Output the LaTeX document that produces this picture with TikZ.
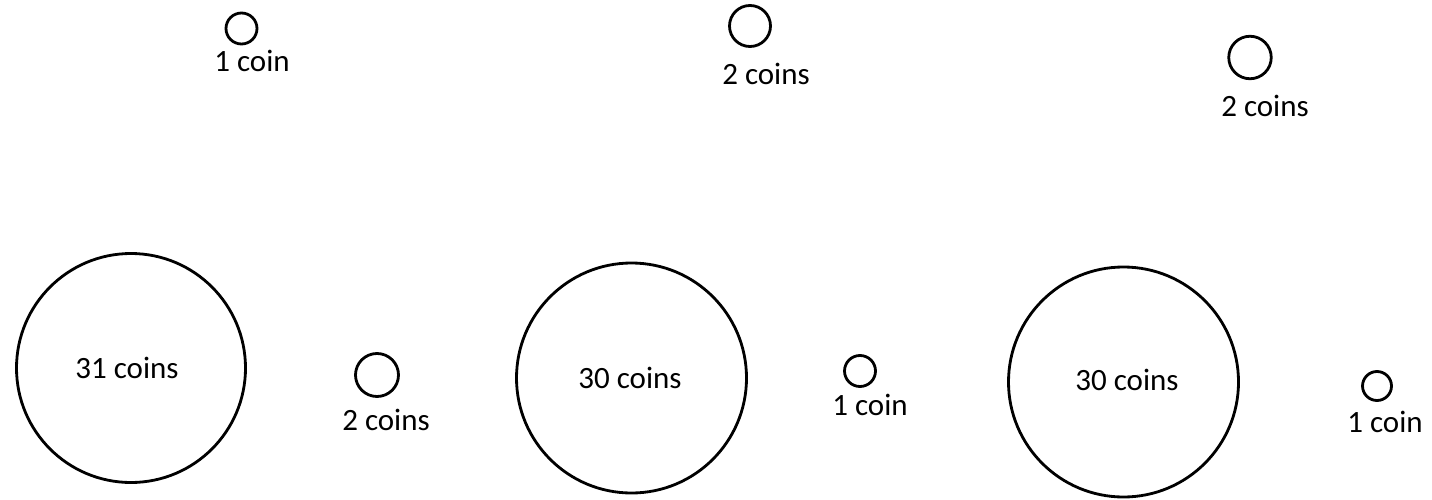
\documentclass[tikz,border=0pt]{standalone}
\usepackage{fontspec}
\setmainfont{Carlito}
\tikzset{
  coin/.style={draw=black,circle,line width=2.8pt,inner sep=0pt},
  lbl/.style={anchor=base,inner sep=0pt,font=\fontsize{31}{36}\selectfont},
}

\begin{document}
\begin{tikzpicture}[x=1pt,y=-1pt,
 pile/.style={coin,minimum size=230pt},
 bit/.style={coin,minimum size=#1}]
\useasboundingbox (0,0) rectangle (1432,500);
% top row of single coins
\node[bit=31pt] (t1) at (241.5,28.5) {};
\node[lbl] (t1l) at (252,72) {1 coin};
\node[bit=41pt] (t2) at (750,26) {};
\node[lbl] (t2l) at (766,85) {2 coins};
\node[bit=42.5pt] (t3) at (1250,57.5) {};
\node[lbl] (t3l) at (1265,117) {2 coins};
% bottom row: big piles
\node[pile,minimum size=229pt] (p1) at (131,368) {};
\node[lbl] (p1l) at (127,378) {31 coins};
\node[pile] (p2) at (631.5,378) {};
\node[lbl] (p2l) at (630,388) {30 coins};
\node[pile] (p3) at (1123.5,382) {};
\node[lbl] (p3l) at (1127,390) {30 coins};
% bottom row: small coins beside the piles
\node[bit=43pt] (b1) at (377,375) {};
\node[lbl] (b1l) at (386,430) {2 coins};
\node[bit=31pt] (b2) at (860,371) {};
\node[lbl] (b2l) at (870,415) {1 coin};
\node[bit=29pt] (b3) at (1377,386) {};
\node[lbl] (b3l) at (1385,432) {1 coin};
\end{tikzpicture}
\end{document}
